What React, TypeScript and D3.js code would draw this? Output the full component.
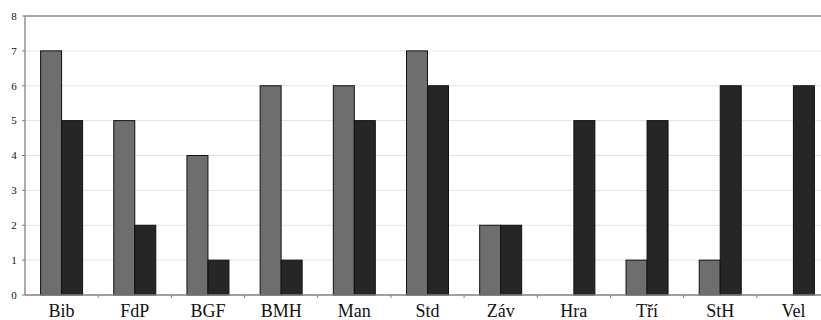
import React from "react";
import * as d3 from "d3";

const categories = ["Bib", "FdP", "BGF", "BMH", "Man", "Std", "Záv", "Hra", "Tří", "StH", "Vel"];
const seriesA = [7, 5, 4, 6, 6, 7, 2, 0, 1, 1, 0];
const seriesB = [5, 2, 1, 1, 5, 6, 2, 5, 5, 6, 6];
const yTicks = [0, 1, 2, 3, 4, 5, 6, 7, 8];

const W = 821;
const H = 320;
const left = 25;
const top = 16;
const bottom = 295;
const right = 830;

export default function App() {
  const x = d3.scaleBand<string>().domain(categories).range([left, right]).paddingInner(0).paddingOuter(0);
  const y = d3.scaleLinear().domain([0, 8]).range([bottom, top]);
  const bw = x.bandwidth();
  const barW = 21;
  const font = "'Liberation Serif', 'Times New Roman', serif";

  return (
    <svg width={W} height={H} style={{ position: "absolute", left: 0, top: 0, background: "#fff" }}>
      {yTicks.map((t) => (
        <g key={t}>
          {t > 0 && t < 8 && (
            <line x1={left} x2={W} y1={y(t)} y2={y(t)} stroke="#e4e4e4" strokeWidth={1} />
          )}
          <line x1={left - 3} x2={left} y1={y(t)} y2={y(t)} stroke="#808080" />
          <text x={14} y={y(t)} dy="0.35em" textAnchor="middle" fontSize={11} fontFamily={font} fill="#111">
            {t}
          </text>
        </g>
      ))}
      <line x1={left} x2={W} y1={y(8)} y2={y(8)} stroke="#888" strokeWidth={1.3} />
      {categories.map((c, i) => {
        const cx = (x(c) as number) + bw / 2;
        const a = seriesA[i];
        const b = seriesB[i];
        return (
          <g key={c}>
            {a > 0 && (
              <rect x={cx - barW} y={y(a)} width={barW} height={y(0) - y(a)} fill="#6e6e6e" stroke="#111" strokeWidth={1} />
            )}
            {b > 0 && (
              <rect x={cx} y={y(b)} width={barW} height={y(0) - y(b)} fill="#262626" stroke="#111" strokeWidth={1} />
            )}
            <text x={cx} y={317} textAnchor="middle" fontSize={18} fontFamily={font} fill="#111">
              {c}
            </text>
          </g>
        );
      })}
      {categories.map((c, i) =>
        i > 0 ? (
          <line key={"t" + c} x1={x(c) as number} x2={x(c) as number} y1={bottom} y2={bottom + 3} stroke="#808080" />
        ) : null
      )}
      <line x1={left} x2={W} y1={bottom} y2={bottom} stroke="#808080" strokeWidth={1.3} />
      <line x1={left} x2={left} y1={top} y2={bottom} stroke="#808080" strokeWidth={1.3} />
    </svg>
  );
}
